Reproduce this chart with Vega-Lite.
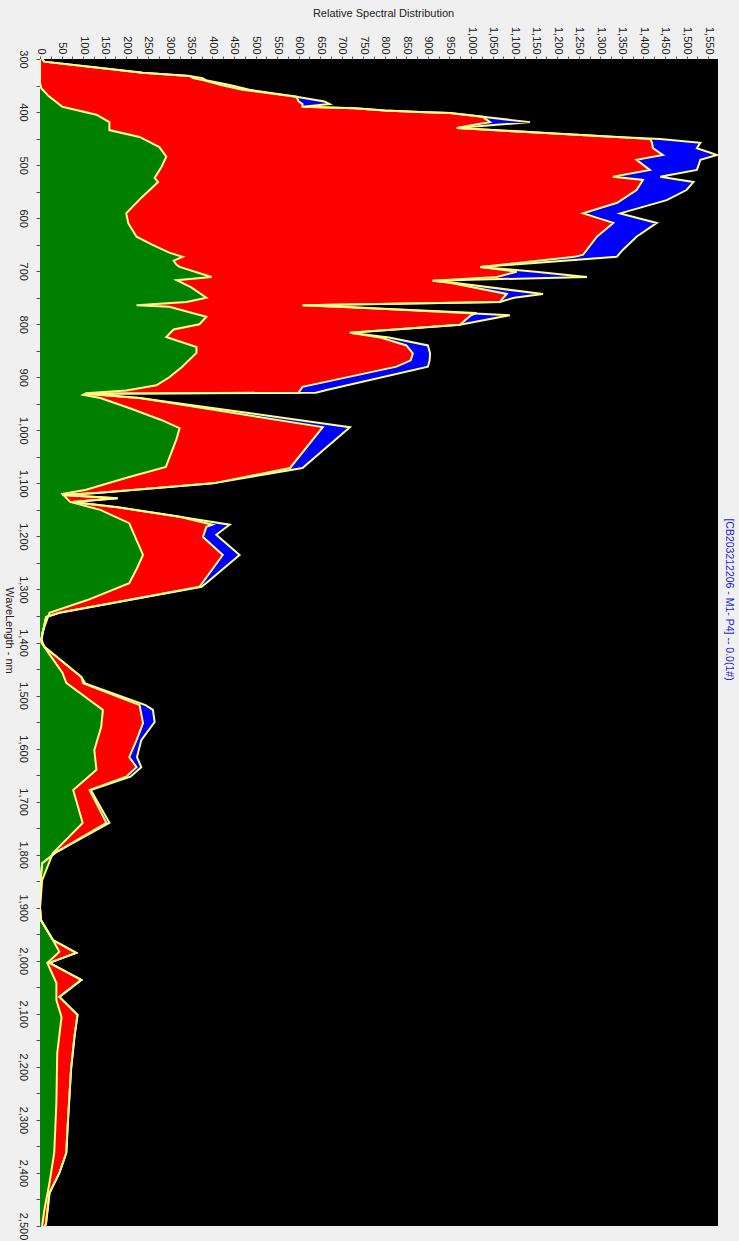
{
  "$schema": "https://vega.github.io/schema/vega-lite/v6.json",
  "width": 678,
  "height": 1167,
  "autosize": "none",
  "padding": {"left": 40, "top": 59, "right": 21, "bottom": 15},
  "background": "#f0f0f0",
  "config": {"view": {"fill": "#000000", "stroke": null}, "font": "Liberation Sans"},
  "datasets": {
    "blue": [
      {"wl":300,"v":5},{"wl":305,"v":10},{"wl":315,"v":120},{"wl":326,"v":238},{"wl":332,"v":347},{"wl":336,"v":377},{"wl":340,"v":385},{"wl":349,"v":440},{"wl":358,"v":486},{"wl":371,"v":595},{"wl":380,"v":660},{"wl":385,"v":672},{"wl":390,"v":609},{"wl":393,"v":730},{"wl":397,"v":800},{"wl":400,"v":880},{"wl":402,"v":951},{"wl":409,"v":1027},{"wl":419,"v":1137},{"wl":424,"v":1060},{"wl":430,"v":967},{"wl":440,"v":1183},{"wl":447,"v":1338},{"wl":451,"v":1439},{"wl":458,"v":1532},{"wl":468,"v":1524},{"wl":481,"v":1571},{"wl":490,"v":1532},{"wl":500,"v":1528},{"wl":509,"v":1524},{"wl":522,"v":1439},{"wl":532,"v":1516},{"wl":547,"v":1500},{"wl":566,"v":1454},{"wl":591,"v":1346},{"wl":609,"v":1431},{"wl":635,"v":1384},{"wl":660,"v":1352},{"wl":673,"v":1338},{"wl":692,"v":1021},{"wl":701,"v":1150},{"wl":711,"v":1269},{"wl":718,"v":911},{"wl":722,"v":960},{"wl":743,"v":1167},{"wl":750,"v":1100},{"wl":758,"v":1067},{"wl":764,"v":609},{"wl":768,"v":720},{"wl":783,"v":1090},{"wl":801,"v":974},{"wl":816,"v":719},{"wl":825,"v":810},{"wl":840,"v":900},{"wl":855,"v":905},{"wl":868,"v":904},{"wl":880,"v":900},{"wl":924,"v":665},{"wl":929,"v":640},{"wl":931,"v":107},{"wl":939,"v":231},{"wl":994,"v":719},{"wl":1071,"v":609},{"wl":1100,"v":401},{"wl":1118,"v":131},{"wl":1122,"v":52},{"wl":1128,"v":180},{"wl":1135,"v":75},{"wl":1145,"v":180},{"wl":1163,"v":324},{"wl":1178,"v":440},{"wl":1197,"v":409},{"wl":1235,"v":463},{"wl":1288,"v":386},{"wl":1295,"v":375},{"wl":1344,"v":45},{"wl":1352,"v":14},{"wl":1395,"v":3},{"wl":1408,"v":10},{"wl":1465,"v":96},{"wl":1477,"v":105},{"wl":1518,"v":245},{"wl":1527,"v":262},{"wl":1550,"v":266},{"wl":1584,"v":235},{"wl":1616,"v":225},{"wl":1635,"v":235},{"wl":1653,"v":210},{"wl":1678,"v":118},{"wl":1740,"v":161},{"wl":1795,"v":38},{"wl":1816,"v":5},{"wl":1850,"v":1},{"wl":1900,"v":0},{"wl":1923,"v":2},{"wl":1961,"v":30},{"wl":1985,"v":84},{"wl":2004,"v":22},{"wl":2036,"v":96},{"wl":2068,"v":45},{"wl":2102,"v":87},{"wl":2143,"v":80},{"wl":2205,"v":72},{"wl":2300,"v":65},{"wl":2362,"v":61},{"wl":2400,"v":45},{"wl":2438,"v":22},{"wl":2495,"v":14},{"wl":2500,"v":12}
    ],
    "red": [
      {"wl":300,"v":5},{"wl":305,"v":10},{"wl":315,"v":120},{"wl":326,"v":238},{"wl":332,"v":347},{"wl":336,"v":355},{"wl":340,"v":380},{"wl":349,"v":420},{"wl":358,"v":470},{"wl":371,"v":595},{"wl":380,"v":600},{"wl":385,"v":609},{"wl":390,"v":609},{"wl":393,"v":730},{"wl":397,"v":800},{"wl":400,"v":880},{"wl":402,"v":951},{"wl":409,"v":1027},{"wl":419,"v":1044},{"wl":425,"v":1000},{"wl":430,"v":967},{"wl":440,"v":1183},{"wl":447,"v":1338},{"wl":451,"v":1416},{"wl":458,"v":1420},{"wl":468,"v":1422},{"wl":481,"v":1445},{"wl":490,"v":1384},{"wl":500,"v":1400},{"wl":509,"v":1415},{"wl":522,"v":1329},{"wl":528,"v":1399},{"wl":547,"v":1384},{"wl":571,"v":1339},{"wl":591,"v":1260},{"wl":609,"v":1330},{"wl":635,"v":1292},{"wl":669,"v":1260},{"wl":673,"v":1240},{"wl":692,"v":1021},{"wl":701,"v":1106},{"wl":711,"v":1060},{"wl":718,"v":911},{"wl":722,"v":951},{"wl":743,"v":1083},{"wl":750,"v":1075},{"wl":758,"v":1067},{"wl":764,"v":609},{"wl":768,"v":720},{"wl":779,"v":1013},{"wl":783,"v":1000},{"wl":801,"v":974},{"wl":816,"v":719},{"wl":825,"v":790},{"wl":840,"v":850},{"wl":855,"v":865},{"wl":868,"v":860},{"wl":880,"v":827},{"wl":918,"v":609},{"wl":929,"v":600},{"wl":931,"v":107},{"wl":939,"v":231},{"wl":994,"v":656},{"wl":1071,"v":580},{"wl":1100,"v":401},{"wl":1118,"v":131},{"wl":1122,"v":52},{"wl":1128,"v":180},{"wl":1135,"v":75},{"wl":1145,"v":180},{"wl":1163,"v":324},{"wl":1178,"v":400},{"wl":1182,"v":386},{"wl":1201,"v":378},{"wl":1235,"v":424},{"wl":1295,"v":370},{"wl":1344,"v":45},{"wl":1352,"v":14},{"wl":1395,"v":3},{"wl":1408,"v":10},{"wl":1465,"v":96},{"wl":1477,"v":100},{"wl":1518,"v":231},{"wl":1552,"v":239},{"wl":1584,"v":224},{"wl":1616,"v":207},{"wl":1635,"v":224},{"wl":1653,"v":200},{"wl":1678,"v":115},{"wl":1740,"v":154},{"wl":1795,"v":38},{"wl":1816,"v":5},{"wl":1850,"v":1},{"wl":1900,"v":0},{"wl":1923,"v":2},{"wl":1961,"v":30},{"wl":1985,"v":84},{"wl":2004,"v":22},{"wl":2036,"v":96},{"wl":2068,"v":45},{"wl":2102,"v":87},{"wl":2143,"v":80},{"wl":2205,"v":72},{"wl":2300,"v":65},{"wl":2362,"v":61},{"wl":2400,"v":45},{"wl":2438,"v":22},{"wl":2495,"v":14},{"wl":2500,"v":12}
    ],
    "green": [
      {"wl":300,"v":0},{"wl":345,"v":0},{"wl":355,"v":3},{"wl":370,"v":20},{"wl":390,"v":52},{"wl":405,"v":131},{"wl":419,"v":161},{"wl":434,"v":161},{"wl":447,"v":231},{"wl":466,"v":277},{"wl":484,"v":293},{"wl":503,"v":282},{"wl":519,"v":270},{"wl":524,"v":266},{"wl":532,"v":274},{"wl":560,"v":237},{"wl":591,"v":200},{"wl":610,"v":205},{"wl":635,"v":224},{"wl":650,"v":260},{"wl":665,"v":300},{"wl":673,"v":331},{"wl":680,"v":310},{"wl":688,"v":317},{"wl":692,"v":324},{"wl":711,"v":398},{"wl":717,"v":317},{"wl":730,"v":350},{"wl":750,"v":386},{"wl":758,"v":340},{"wl":764,"v":224},{"wl":767,"v":300},{"wl":786,"v":386},{"wl":800,"v":370},{"wl":810,"v":310},{"wl":824,"v":293},{"wl":843,"v":363},{"wl":854,"v":363},{"wl":880,"v":330},{"wl":900,"v":300},{"wl":915,"v":270},{"wl":925,"v":200},{"wl":930,"v":107},{"wl":933,"v":100},{"wl":939,"v":140},{"wl":958,"v":207},{"wl":980,"v":280},{"wl":996,"v":324},{"wl":1018,"v":316},{"wl":1069,"v":292},{"wl":1088,"v":207},{"wl":1112,"v":107},{"wl":1120,"v":52},{"wl":1135,"v":70},{"wl":1150,"v":140},{"wl":1175,"v":207},{"wl":1207,"v":224},{"wl":1235,"v":239},{"wl":1260,"v":225},{"wl":1288,"v":207},{"wl":1320,"v":110},{"wl":1344,"v":22},{"wl":1382,"v":5},{"wl":1400,"v":3},{"wl":1420,"v":20},{"wl":1457,"v":52},{"wl":1476,"v":61},{"wl":1527,"v":146},{"wl":1559,"v":142},{"wl":1603,"v":126},{"wl":1640,"v":131},{"wl":1678,"v":77},{"wl":1740,"v":99},{"wl":1797,"v":30},{"wl":1848,"v":5},{"wl":1900,"v":0},{"wl":1923,"v":2},{"wl":1961,"v":30},{"wl":1983,"v":45},{"wl":2004,"v":17},{"wl":2042,"v":38},{"wl":2074,"v":38},{"wl":2106,"v":50},{"wl":2174,"v":40},{"wl":2268,"v":38},{"wl":2362,"v":33},{"wl":2419,"v":22},{"wl":2470,"v":10},{"wl":2500,"v":5}
    ]
  },
  "resolve": {"axis": {"y": "independent"}},
  "layer": [
    {
      "encoding": {
        "y": {
          "field": "wl", "type": "quantitative",
          "scale": {"domain": [300, 2500], "reverse": true, "nice": false, "zero": false},
          "axis": {
            "orient": "left",
            "title": "WaveLength - nm",
            "titleAngle": 90, "titleX": -32, "titleY": 571, "titleAlign": "center", "titleBaseline": "middle",
            "titleFontSize": 11, "titleFontWeight": "normal", "titleColor": "#222222",
            "values": [300,350,400,450,500,550,600,650,700,750,800,850,900,950,1000,1050,1100,1150,1200,1250,1300,1350,1400,1450,1500,1550,1600,1650,1700,1750,1800,1850,1900,1950,2000,2050,2100,2150,2200,2250,2300,2350,2400,2450,2500],
            "format": ",.0f",
            "labelExpr": "datum.value % 100 == 0 ? datum.label : ''",
            "labelAngle": 90, "labelAlign": "center", "labelBaseline": "top",
            "labelFontSize": 11, "labelColor": "#222222", "labelPadding": 8,
            "labelOverlap": false, "labelFlush": false, "labelBound": false,
            "tickSize": 4, "tickColor": "#555555",
            "domain": true, "domainColor": "#000000",
            "grid": false
          }
        },
        "x": {
          "field": "v", "type": "quantitative",
          "scale": {"domain": [0, 1573], "nice": false, "zero": true},
          "axis": {
            "orient": "top",
            "title": "Relative Spectral Distribution",
            "titleX": 343, "titleY": -46, "titleAlign": "center", "titleBaseline": "middle",
            "titleFontSize": 11, "titleFontWeight": "normal", "titleColor": "#222222",
            "values": [0,25,50,75,100,125,150,175,200,225,250,275,300,325,350,375,400,425,450,475,500,525,550,575,600,625,650,675,700,725,750,775,800,825,850,875,900,925,950,975,1000,1025,1050,1075,1100,1125,1150,1175,1200,1225,1250,1275,1300,1325,1350,1375,1400,1425,1450,1475,1500,1525,1550],
            "format": ",.0f",
            "labelExpr": "datum.value % 50 == 0 ? datum.label : ''",
            "labelAngle": 90, "labelAlign": "right", "labelBaseline": "middle",
            "labelFontSize": 11, "labelColor": "#222222", "labelPadding": 2,
            "labelOverlap": false, "labelFlush": false, "labelBound": false,
            "tickSize": 3, "tickColor": "#555555",
            "domain": false,
            "grid": false
          }
        }
      },
      "layer": [
        {"data": {"name": "blue"}, "mark": {"type": "area", "orient": "horizontal", "color": "#0000ff", "clip": true}, "encoding": {}},
        {"data": {"name": "red"}, "mark": {"type": "area", "orient": "horizontal", "color": "#ff0000", "clip": true}, "encoding": {}},
        {"data": {"name": "green"}, "mark": {"type": "area", "orient": "horizontal", "color": "#008000", "clip": true}, "encoding": {}},
        {"data": {"name": "blue"}, "mark": {"type": "line", "orient": "horizontal", "color": "#ffff88", "strokeWidth": 2, "clip": true}, "encoding": {}},
        {"data": {"name": "red"}, "mark": {"type": "line", "orient": "horizontal", "color": "#ffff88", "strokeWidth": 2, "clip": true}, "encoding": {}},
        {"data": {"name": "green"}, "mark": {"type": "line", "orient": "horizontal", "color": "#ffff88", "strokeWidth": 2, "clip": true}, "encoding": {}}
      ]
    },
    {
      "data": {"name": "green"},
      "mark": {"type": "point", "opacity": 0},
      "encoding": {
        "y": {
          "field": "wl", "type": "quantitative",
          "axis": {
            "orient": "right",
            "title": "[CB203212206 - M1- P4] -- 0.0(1#)",
            "titleAngle": 90, "titleX": 10, "titleY": 540, "titleAlign": "center", "titleBaseline": "middle",
            "titleFontSize": 10.5, "titleFontWeight": "normal", "titleColor": "#1a1ae6",
            "labels": false, "ticks": false, "domain": false, "grid": false
          }
        }
      }
    }
  ]
}
